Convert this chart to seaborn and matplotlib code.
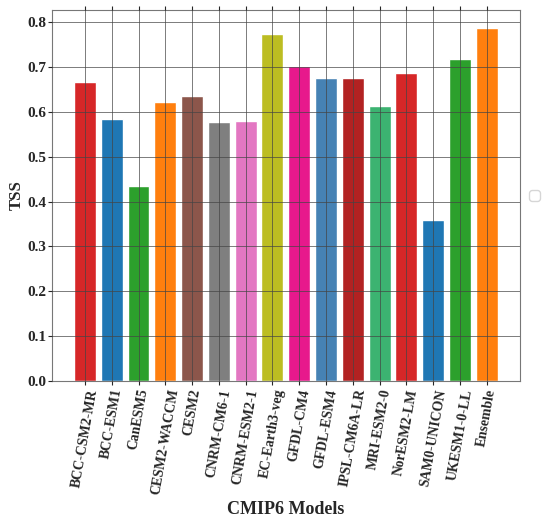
import matplotlib
matplotlib.use("Agg")
import matplotlib.pyplot as plt
import seaborn as sns

# TSS score of each CMIP6 model
models = ["BCC-CSM2-MR", "BCC-ESM1", "CanESM5", "CESM2-WACCM", "CESM2",
          "CNRM-CM6-1", "CNRM-ESM2-1", "EC-Earth3-veg", "GFDL-CM4", "GFDL-ESM4",
          "IPSL-CM6A-LR", "MRI-ESM2-0", "NorESM2-LM", "SAM0-UNICON",
          "UKESM1-0-LL", "Ensemble"]
tss = [0.667, 0.584, 0.434, 0.623, 0.635, 0.578, 0.581, 0.775, 0.703, 0.676,
       0.676, 0.614, 0.688, 0.359, 0.718, 0.787]
colors = ["tab:red", "tab:blue", "tab:green", "tab:orange", "tab:brown",
          "tab:gray", "tab:pink", "tab:olive", "#e7198c", "steelblue",
          "firebrick", "mediumseagreen", "tab:red", "tab:blue", "tab:green",
          "tab:orange"]

sns.set_style("white")
plt.rcParams["font.family"] = ["Liberation Serif", "DejaVu Serif"]
plt.rcParams["font.weight"] = "bold"

fig = plt.figure(figsize=(5.5, 5.19), dpi=100)
ax = fig.add_axes([0.0945, 0.266, 0.8505, 0.715])

sns.barplot(x=models, y=tss, hue=models, palette=colors, legend=False,
            width=0.82, saturation=1, ax=ax)

ax.set_xlim(-1.23, len(models) - 1 + 1.23)
ax.set_ylim(0, 0.828)
ax.set_yticks([0, 0.1, 0.2, 0.3, 0.4, 0.5, 0.6, 0.7, 0.8])
ax.set_axisbelow(False)
ax.grid(True, color="#444444", linewidth=0.7, alpha=0.7)

ax.tick_params(axis="x", top=True, bottom=True, direction="out", length=3,
               pad=2)
ax.tick_params(axis="y", left=True, direction="out", length=3, pad=1,
               labelsize=11)
plt.setp(ax.get_xticklabels(), rotation=80, ha="center", fontsize=10,
         fontweight="bold")
plt.setp(ax.get_yticklabels(), fontweight="bold")

for s in ax.spines.values():
    s.set_color("#777777")
    s.set_linewidth(0.8)

ax.set_xlabel("CMIP6 Models", fontsize=13, fontweight="bold", labelpad=4)
ax.set_ylabel("TSS", fontsize=12, fontweight="bold", labelpad=2)

# empty legend box to the right
ax.legend(handles=[], loc="center left", bbox_to_anchor=(1.005, 0.5))

fig.savefig("out.png", dpi=100)
